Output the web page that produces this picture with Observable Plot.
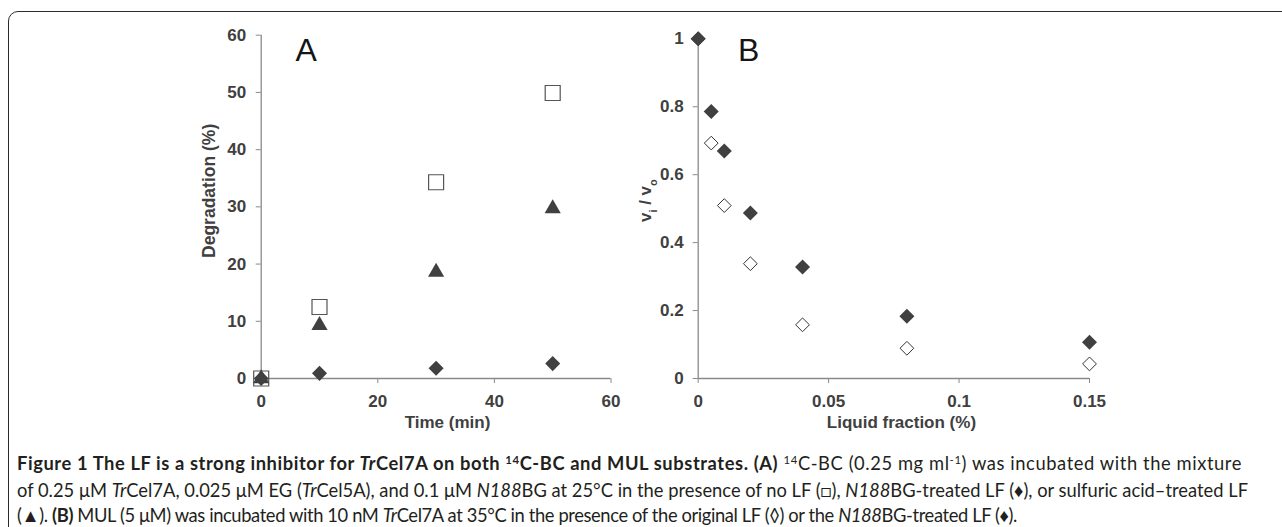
<!DOCTYPE html>
<html><head><meta charset="utf-8">
<script src="https://cdn.jsdelivr.net/npm/d3@7"></script>
<script src="https://cdn.jsdelivr.net/npm/@observablehq/plot@0.6"></script>
<style>
html,body{margin:0;padding:0;background:#fff;}
#root{position:relative;width:1282px;height:527px;overflow:hidden;background:#fff;}
#frame{position:absolute;left:8px;top:10.5px;width:1300px;height:560px;border:1.5px solid #2b2b2b;border-radius:10px;box-sizing:border-box;}
#a{position:absolute;left:0;top:0;}
#b{position:absolute;left:640px;top:0;}
.cap{position:absolute;left:17px;white-space:nowrap;font-family:Lato,"Open Sans",sans-serif;font-size:17px;line-height:24px;color:#231f20;}
.cap sup{font-size:0.62em;position:relative;top:-0.5em;vertical-align:baseline;line-height:0;}
</style></head><body>
<div id="root">
<div id="frame"></div>
<div id="a"></div>
<div id="b"></div>
<div class="cap" id="c1"><b>Figure 1 The LF is a strong inhibitor for <i>Tr</i>Cel7A on both <sup>14</sup>C-BC and MUL substrates. (A)</b> <sup>14</sup>C-BC (0.25 mg ml<sup>-1</sup>) was incubated with the mixture</div>
<div class="cap" id="c2">of 0.25 μM <i>Tr</i>Cel7A, 0.025 μM EG (<i>Tr</i>Cel5A), and 0.1 μM <i>N188</i>BG at 25°C in the presence of no LF (□), <i>N188</i>BG-treated LF (♦), or sulfuric acid–treated LF</div>
<div class="cap" id="c3">(▲). <b>(B)</b> MUL (5 μM) was incubated with 10 nM <i>Tr</i>Cel7A at 35°C in the presence of the original LF (◊) or the <i>N188</i>BG-treated LF (♦).</div>
</div>
<script>
// ---- Panel A data ----
const timeMin = [0, 10, 30, 50];
const noLF = [0, 12.5, 34.3, 49.9];
const n188TreatedLF_A = [0, 0.9, 1.8, 2.6];
const sulfuricTreatedLF = [0, 9.3, 18.6, 29.7];
const ticksAx = [0, 20, 40, 60];
const ticksAy = [0, 10, 20, 30, 40, 50, 60];
// ---- Panel B data ----
const liquidFraction = [0, 0.005, 0.01, 0.02, 0.04, 0.08, 0.15];
const originalLF = [1, 0.693, 0.509, 0.338, 0.158, 0.089, 0.043];
const n188TreatedLF_B = [1, 0.786, 0.670, 0.487, 0.328, 0.183, 0.107];
const ticksBx = [0, 0.05, 0.1, 0.15];
const ticksBy = [0, 0.2, 0.4, 0.6, 0.8, 1];
const labelsBx = ["0", "0.05", "0.1", "0.15"];
const labelsBy = ["0", "0.2", "0.4", "0.6", "0.8", "1"];

const tableA = timeMin.map((t, i) => ({t, noLF: noLF[i], n188: n188TreatedLF_A[i], sulf: sulfuricTreatedLF[i]}));
const tableB = liquidFraction.map((f, i) => ({f, orig: originalLF[i], n188: n188TreatedLF_B[i]}));

const dark = "#404040";
const axisGray = "#8a8a8a";
const font = "'Liberation Sans', Arial, Helvetica, sans-serif";
const svgStyle = {fontFamily: font, fontSize: "17px", fontWeight: "bold", color: dark, background: "transparent", overflow: "visible"};

const plotA = Plot.plot({
  width: 640, height: 440,
  marginLeft: 260.7, marginRight: 29.5, marginTop: 34.7, marginBottom: 62,
  style: svgStyle,
  x: {domain: [0, 60]},
  y: {domain: [0, 60]},
  marks: [
    Plot.axisY({ticks: ticksAy, tickSize: 5, tickPadding: 10, label: null, stroke: axisGray, fill: dark}),
    Plot.axisX({ticks: ticksAx, tickSize: 5, tickPadding: 11, label: null, stroke: axisGray, fill: dark}),
    Plot.ruleX([0], {stroke: axisGray, strokeWidth: 1.3}),
    Plot.ruleY([0], {stroke: axisGray, strokeWidth: 1.3}),
    Plot.dot(tableA, {x: "t", y: "noLF", symbol: "square", r: 8.46, fill: "white", stroke: "#555", strokeWidth: 1.2}),
    Plot.dot(tableA, {x: "t", y: "n188", symbol: "diamond2", r: 6.78, fill: dark, stroke: "none"}),
    Plot.dot(tableA, {x: "t", y: "sulf", symbol: "triangle", r: 6, fill: dark, stroke: "none"}),
    Plot.text(["Time (min)"], {frameAnchor: "bottom", dx: 11.4, dy: 44, textAnchor: "middle", lineAnchor: "middle", fill: dark, fontSize: 17, fontWeight: "bold"}),
    Plot.text(["Degradation (%)"], {frameAnchor: "left", dx: -51.7, dy: -16, rotate: -90, textAnchor: "middle", lineAnchor: "middle", fill: dark, fontSize: 17.5, fontWeight: "bold"}),
    Plot.text(["A"], {frameAnchor: "top-left", dx: 34.3, dy: 25.3, textAnchor: "start", lineAnchor: "bottom", fill: "#151515", fontSize: 32, fontWeight: "normal"})
  ]
});
document.getElementById("a").appendChild(plotA);

const plotB = Plot.plot({
  width: 642, height: 440,
  marginLeft: 57.7, marginRight: 193, marginTop: 38.3, marginBottom: 62,
  style: svgStyle,
  x: {domain: [0, 0.15]},
  y: {domain: [0, 1]},
  marks: [
    Plot.axisY({ticks: ticksBy, tickFormat: (d, i) => labelsBy[i], tickSize: 5, tickPadding: 9.5, label: null, stroke: axisGray, fill: dark}),
    Plot.axisX({ticks: ticksBx, tickFormat: (d, i) => labelsBx[i], tickSize: 5, tickPadding: 11, label: null, stroke: axisGray, fill: dark}),
    Plot.ruleX([0], {stroke: axisGray, strokeWidth: 1.3}),
    Plot.ruleY([0], {stroke: axisGray, strokeWidth: 1.3}),
    Plot.dot(tableB, {x: "f", y: "orig", symbol: "diamond2", r: 6.2, fill: "white", stroke: "#333", strokeWidth: 1}),
    Plot.dot(tableB, {x: "f", y: "n188", symbol: "diamond2", r: 6.78, fill: dark, stroke: "none"}),
    Plot.text(["Liquid fraction (%)"], {frameAnchor: "bottom", dx: 7.6, dy: 44, textAnchor: "middle", lineAnchor: "middle", fill: dark, fontSize: 17, fontWeight: "bold"}),
    Plot.text(["vi / vo"], {frameAnchor: "left", dx: -52.7, dy: -8, rotate: -90, textAnchor: "middle", lineAnchor: "middle", fill: dark, fontSize: 17, fontWeight: "bold"}),
    Plot.text(["B"], {frameAnchor: "top-left", dx: 39.7, dy: 21.7, textAnchor: "start", lineAnchor: "bottom", fill: "#151515", fontSize: 32, fontWeight: "normal"})
  ]
});
document.getElementById("b").appendChild(plotB);

// subscripts in the v_i / v_o label
d3.select(plotB).selectAll("text").filter(function() { return this.textContent === "vi / vo"; }).each(function() {
  const t = d3.select(this);
  t.text(null);
  t.append("tspan").text("v");
  t.append("tspan").attr("baseline-shift", "sub").attr("font-size", "11px").text("i");
  t.append("tspan").text(" / v");
  t.append("tspan").attr("baseline-shift", "sub").attr("font-size", "11px").text("o");
});

// caption: font size from line 2, then gently fit each line's length with letter-spacing
const caps = ["c1", "c2", "c3"].map(id => document.getElementById(id));
const w2 = caps[1].getBoundingClientRect().width;
const fs = 17 * 1231 / w2;
caps.forEach(c => c.style.fontSize = fs + "px");
const targets = [1225, 1231, 1000];
caps.forEach((c, i) => {
  const w = c.getBoundingClientRect().width;
  const n = c.textContent.length;
  c.style.letterSpacing = ((targets[i] - w) / n) + "px";
});
const centers = [463, 490, 515];
caps.forEach((c, i) => { c.style.top = (centers[i] - 12) + "px"; });
</script>
</body></html>
